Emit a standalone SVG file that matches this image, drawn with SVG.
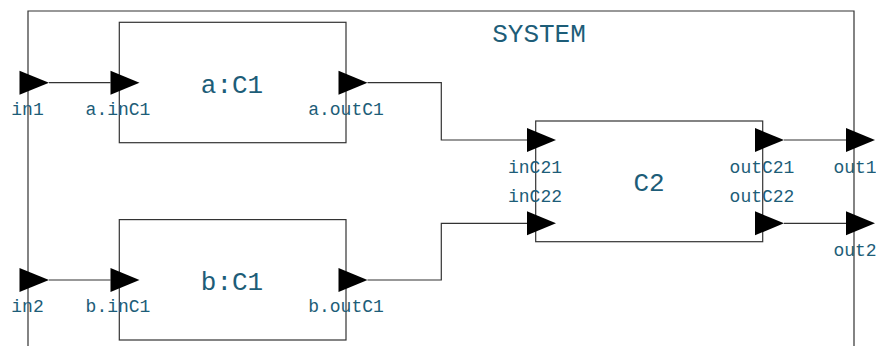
<svg xmlns="http://www.w3.org/2000/svg" width="876" height="346" viewBox="0 0 876 346">
<style>
.box{fill:none;stroke:#333;stroke-width:1.2}
.wire{fill:none;stroke:#333;stroke-width:1.2}
.port{fill:#000}
.lbl{font-family:"Liberation Mono","DejaVu Sans Mono",monospace;font-size:18px;fill:#1d5d78;text-anchor:middle}
.ttl{font-family:"Liberation Mono","DejaVu Sans Mono",monospace;font-size:26px;fill:#1d5d78;text-anchor:middle}
</style>
<rect width="876" height="346" fill="#fff"/>
<g id="system">
<path class="box" d="M28 346 V11 H854 V346"/>
<text class="ttl" x="539" y="41.7">SYSTEM</text>
</g>
<g id="connectors">
<path class="wire" d="M49 82.7 H110.5"/>
<path class="wire" d="M367.5 82.7 H441.3 V140 H527"/>
<path class="wire" d="M49 280 H110.5"/>
<path class="wire" d="M367.5 280 H441.3 V223.3 H527"/>
<path class="wire" d="M784 140 H846"/>
<path class="wire" d="M784 223.3 H846"/>
</g>
<g id="a">
<rect class="box" x="119.3" y="22.3" width="226.7" height="120.4"/>
<text class="ttl" x="232" y="93.3">a:C1</text>
</g>
<g id="b">
<rect class="box" x="119.3" y="219.6" width="226.7" height="120.4"/>
<text class="ttl" x="232" y="290">b:C1</text>
</g>
<g id="c2">
<rect class="box" x="535.7" y="121" width="227" height="120.7"/>
<text class="ttl" x="649" y="191">C2</text>
</g>
<g id="in1"><polygon class="port" points="19.5,70.7 49,82.7 19.5,94.7"/><text class="lbl" x="27.5" y="115">in1</text></g>
<g id="a.inC1"><polygon class="port" points="110.5,70.7 139.5,82.7 110.5,94.7"/><text class="lbl" x="118" y="115">a.inC1</text></g>
<g id="a.outC1"><polygon class="port" points="338.5,70.7 367.5,82.7 338.5,94.7"/><text class="lbl" x="346" y="115">a.outC1</text></g>
<g id="in2"><polygon class="port" points="19.5,268 49,280 19.5,292"/><text class="lbl" x="27.5" y="312.3">in2</text></g>
<g id="b.inC1"><polygon class="port" points="110.5,268 139.5,280 110.5,292"/><text class="lbl" x="118" y="312.3">b.inC1</text></g>
<g id="b.outC1"><polygon class="port" points="338.5,268 367.5,280 338.5,292"/><text class="lbl" x="346" y="312.3">b.outC1</text></g>
<g id="inC21"><polygon class="port" points="527,128 556,140 527,152"/><text class="lbl" x="535" y="172.7">inC21</text></g>
<g id="inC22"><polygon class="port" points="527,211.3 556,223.3 527,235.3"/><text class="lbl" x="535" y="202.3">inC22</text></g>
<g id="outC21"><polygon class="port" points="755,128 784,140 755,152"/><text class="lbl" x="762" y="172.7">outC21</text></g>
<g id="outC22"><polygon class="port" points="755,211.3 784,223.3 755,235.3"/><text class="lbl" x="762" y="202.3">outC22</text></g>
<g id="out1"><polygon class="port" points="846,128 875,140 846,152"/><text class="lbl" x="855" y="172.7">out1</text></g>
<g id="out2"><polygon class="port" points="846,211.3 875,223.3 846,235.3"/><text class="lbl" x="855" y="255.7">out2</text></g>
</svg>
